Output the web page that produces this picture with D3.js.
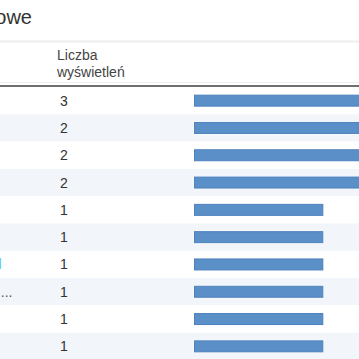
<!DOCTYPE html>
<html><head><meta charset="utf-8">
<script src="https://cdn.jsdelivr.net/npm/d3@7"></script>
<style>html,body{margin:0;padding:0;background:#fff;overflow:hidden}</style>
</head><body>
<svg id="c" width="359" height="359"></svg>
<script>
const title = "Słowa kluczowe";
const headerLines = ["Liczba", "wyświetleń"];
const categories = ["(not provided)", "(not set)", "strona główna", "kontakt", "oferta", "cennik", "www.example.pl", "jak dojechać do biura firmy ...", "galeria", "o nas"];
const values = [3, 2, 2, 2, 1, 1, 1, 1, 1, 1];

const svg = d3.select("#c");
const W = 359;
const font = "'Liberation Sans', Arial, sans-serif";

svg.append("text").attr("x", 32).attr("y", 24).attr("text-anchor", "end")
  .attr("font-family", font).attr("font-size", 20).attr("fill", "#333").text(title);

svg.append("rect").attr("x", 0).attr("y", 40.5).attr("width", W).attr("height", 2).attr("fill", "#eeeeee");

headerLines.forEach((t, i) => {
  svg.append("text").attr("x", 57).attr("y", 60 + i * 16.7)
    .attr("font-family", font).attr("font-size", 14).attr("fill", "#444").text(t);
});
svg.append("line").attr("x1", 0).attr("x2", W).attr("y1", 82.5).attr("y2", 82.5).attr("stroke", "#f0f0f0");
svg.append("rect").attr("x", 0).attr("y", 85).attr("width", W).attr("height", 2.2).attr("fill", "#707070");

const rowsData = values.map((v, i) => ({ i, v, label: categories[i] }));
const y = d3.scaleBand().domain(d3.range(values.length)).range([87, 360]).padding(0);
const x = d3.scaleLinear().domain([0, 3]).range([0, 388]);

const rows = svg.append("g").selectAll("g").data(rowsData).join("g")
  .attr("transform", d => `translate(0,${y(d.i)})`);

rows.append("rect").attr("x", 0).attr("y", 0).attr("width", W).attr("height", y.bandwidth())
  .attr("fill", d => d.i % 2 ? "#f2f5fa" : "#ffffff");

// category column lies mostly left of the visible crop
rows.append("text")
  .attr("x", d => d.i === 6 ? 1.5 : d.i === 7 ? 12.5 : -1)
  .attr("y", y.bandwidth() / 2 + 5)
  .attr("text-anchor", "end")
  .attr("font-family", font).attr("font-size", 14)
  .attr("fill", d => d.i === 6 ? "#4fc8f0" : "#555")
  .text(d => d.label);

rows.append("text").attr("x", 60).attr("y", y.bandwidth() / 2 + 5)
  .attr("font-family", font).attr("font-size", 14).attr("fill", "#333").text(d => d.v);

rows.append("rect").attr("x", 193.5).attr("y", y.bandwidth() / 2 - 6.5)
  .attr("width", d => x(d.v) + 1).attr("height", 13).attr("fill", "#ffffff");
rows.append("rect").attr("x", 194.5).attr("y", y.bandwidth() / 2 - 5.5)
  .attr("width", d => x(d.v) - 1).attr("height", 11)
  .attr("fill", "#5b8fc8").attr("stroke", "#4e82bd").attr("stroke-width", 1);
</script>
</body></html>
